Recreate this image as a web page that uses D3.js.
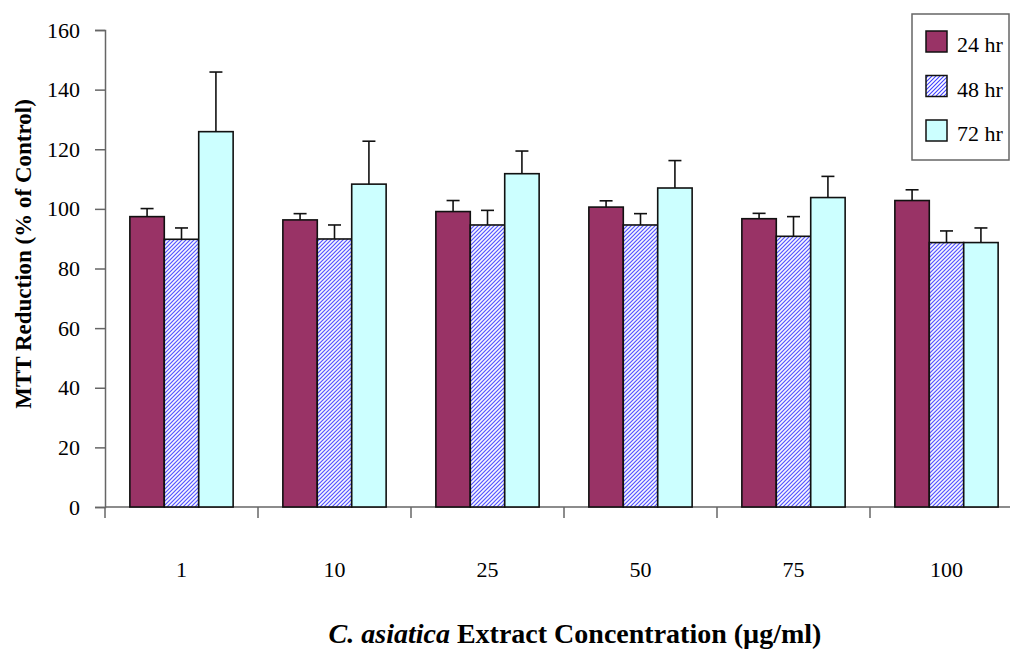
<!DOCTYPE html>
<html>
<head>
<meta charset="utf-8">
<script src="https://cdn.jsdelivr.net/npm/d3@7"></script>
<style>
  html, body { margin: 0; padding: 0; background: #fff; }
  svg { display: block; }
  svg text { font-family: "Liberation Serif", "DejaVu Serif", "Times New Roman", serif !important; fill: #000; }
</style>
</head>
<body>
<svg id="chart" width="1010" height="651" font-family="Liberation Serif"></svg>
<script>
// Extract concentrations (µg/ml)
const categories = ["1", "10", "25", "50", "75", "100"];
const seriesNames = ["24 hr", "48 hr", "72 hr"];

// Mean MTT reduction (% of control) per time point
const values24 = [97.4, 96.3, 99.1, 100.6, 96.7, 102.8];
const values48 = [89.8, 89.9, 94.6, 94.6, 90.8, 88.7];
const values72 = [125.9, 108.3, 111.8, 107.0, 103.8, 88.7];

// Upper error bar (standard deviation)
const err24 = [2.7, 2.1, 3.7, 2.1, 1.8, 3.6];
const err48 = [3.8, 4.7, 4.9, 3.8, 6.6, 3.9];
const err72 = [20.0, 14.4, 7.6, 9.2, 7.1, 4.9];

const yTicks = [0, 20, 40, 60, 80, 100, 120, 140, 160];

const series = [
  { name: seriesNames[0], values: values24, errors: err24, fill: "#993366" },
  { name: seriesNames[1], values: values48, errors: err48, fill: "url(#hatch48)" },
  { name: seriesNames[2], values: values72, errors: err72, fill: "#CCFFFF" }
];

const svg = d3.select("#chart");

// Diagonal hatch for the 48 hr bars
const defs = svg.append("defs");
const pat = defs.append("pattern")
  .attr("id", "hatch48")
  .attr("patternUnits", "userSpaceOnUse")
  .attr("width", 4).attr("height", 4);
pat.append("rect").attr("width", 4).attr("height", 4).attr("fill", "#fff");
pat.append("path")
  .attr("d", "M-1,1 l2,-2 M0,4 l4,-4 M3,5 l2,-2")
  .attr("stroke", "#4040ff").attr("stroke-width", 1.1);

const plotLeft = 105, plotRight = 1023, plotTop = 30, plotBottom = 507;

const x = d3.scaleBand().domain(categories).range([plotLeft, plotRight]).paddingInner(0).paddingOuter(0);
const groupWidth = x.bandwidth() * 0.675;
const xs = d3.scaleBand().domain(seriesNames).range([0, groupWidth]);
const y = d3.scaleLinear().domain([0, 160]).range([plotBottom, plotTop]);

// Y axis
const yAxis = svg.append("g").attr("transform", `translate(${plotLeft},0)`)
  .call(d3.axisLeft(y).tickValues(yTicks).tickSize(10).tickPadding(15).tickFormat(d3.format("d")));
yAxis.attr("font-family", "Liberation Serif").attr("font-size", 22);
yAxis.select(".domain").attr("stroke", "#666").attr("stroke-width", 1.5);
yAxis.selectAll(".tick line").attr("stroke", "#666").attr("stroke-width", 1.5);
yAxis.selectAll(".tick text").style("font-size", "22px").attr("fill", "#000");

// X axis: ticks between categories
const boundaries = categories.map(c => x(c)).concat([plotRight]);
svg.append("line").attr("x1", plotLeft).attr("x2", plotRight).attr("y1", plotBottom).attr("y2", plotBottom)
  .attr("stroke", "#666").attr("stroke-width", 1.5);
svg.selectAll(".xtick").data(boundaries).enter().append("line")
  .attr("x1", d => d).attr("x2", d => d).attr("y1", plotBottom).attr("y2", plotBottom + 11)
  .attr("stroke", "#666").attr("stroke-width", 1.5);
svg.selectAll(".xlabel").data(categories).enter().append("text")
  .attr("x", d => x(d) + x.bandwidth() / 2)
  .attr("y", 577)
  .attr("text-anchor", "middle")
  .style("font-size", "22px")
  .text(d => d);

// Bars
const groups = svg.selectAll(".grp").data(categories).enter().append("g")
  .attr("transform", d => `translate(${x(d) + (x.bandwidth() - groupWidth) / 2},0)`);

series.forEach((s) => {
  groups.append("rect")
    .attr("x", xs(s.name))
    .attr("width", xs.bandwidth())
    .attr("y", (d, i) => y(s.values[i]))
    .attr("height", (d, i) => y(0) - y(s.values[i]))
    .attr("fill", s.fill)
    .attr("stroke", "#111").attr("stroke-width", 1.6);
});

// Error bars (upper only)
series.forEach((s) => {
  const cx = xs(s.name) + xs.bandwidth() / 2;
  groups.append("line")
    .attr("x1", cx).attr("x2", cx)
    .attr("y1", (d, i) => y(s.values[i]))
    .attr("y2", (d, i) => y(s.values[i] + s.errors[i]))
    .attr("stroke", "#111").attr("stroke-width", 1.6);
  groups.append("line")
    .attr("x1", cx - 6.5).attr("x2", cx + 6.5)
    .attr("y1", (d, i) => y(s.values[i] + s.errors[i]))
    .attr("y2", (d, i) => y(s.values[i] + s.errors[i]))
    .attr("stroke", "#111").attr("stroke-width", 1.6);
});

// Axis titles
svg.append("text")
  .attr("transform", "translate(31,254) rotate(-90)")
  .attr("text-anchor", "middle")
  .style("font-size", "23px").style("font-weight", "bold")
  .text("MTT Reduction (% of Control)");

const xt = svg.append("text")
  .attr("x", 575).attr("y", 643)
  .attr("text-anchor", "middle")
  .style("font-size", "28px").style("font-weight", "bold");
xt.append("tspan").style("font-style", "italic").text("C. asiatica");
xt.append("tspan").text(" Extract Concentration (\u00B5g/ml)");

// Legend
const lg = svg.append("g");
lg.append("rect").attr("x", 912).attr("y", 14).attr("width", 97).attr("height", 146)
  .attr("fill", "#fff").attr("stroke", "#666").attr("stroke-width", 1.5);
series.forEach((s, i) => {
  const yy = 31 + i * 44.5;
  lg.append("rect").attr("x", 926).attr("y", yy).attr("width", 21).attr("height", 21)
    .attr("fill", s.fill).attr("stroke", "#111").attr("stroke-width", 1.5);
  lg.append("text").attr("x", 957).attr("y", yy + 21)
    .style("font-size", "22px").text(s.name);
});
</script>
</body>
</html>
